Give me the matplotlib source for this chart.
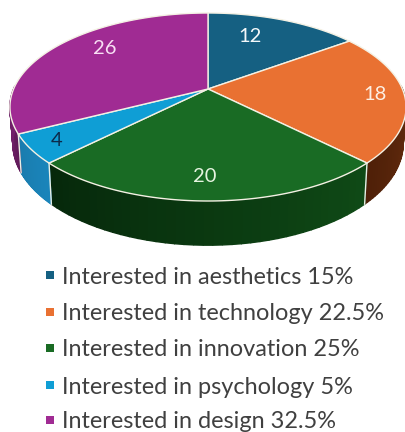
import numpy             as np
import matplotlib.pyplot as plt

from matplotlib.colors import to_rgb

# pie values and legend text
categories  = ["Interested in aesthetics", "Interested in technology", "Interested in innovation", "Interested in psychology", "Interested in design"]
counts      = [12, 18, 20, 4, 26]
percent_txt = ["15%", "22.5%", "25%", "5%", "32.5%"]

top_colors  = ["#156082", "#E97132", "#196B24", "#0F9ED5", "#A02B93"]
side_colors = [("#0c3a50", "#0c3a50"), ("#6b3010", "#4f2008"), ("#0f4a16", "#06280b"), ("#1a85bb", "#1a7cae"), ("#5f1a58", "#7a2272")]
label_color = ["#f4f8fa", "#fdeee2", "#e6f4e0", "#0c2a4a", "#f8dff4"]
label_pos   = [(250, 37), (375, 95), (205, 176), (57, 141), (105, 49)]

PERSPECTIVE = 0.1915


def project(angle, cy, half_w, half_h):
    # clockwise angle from 12 o'clock, far side of the disc is squeezed
    u = np.sin(angle)
    v = np.cos(angle)
    w = 1 + PERSPECTIVE * v
    return 208 + half_w * u / w, cy - half_h * v / w


def top_edge(angle):
    return project(angle, 89, 194.4, 90.55)


def bottom_edge(angle):
    return project(angle, 124, 191.5, 98)


def draw_side(start, end, colors):
    # side wall of one slice, small strips so the shade can run along the arc
    start = max(start, np.radians(88))
    end   = min(end, np.radians(272))
    if end <= start:
        return
    c0, c1 = np.array(to_rgb(colors[0])), np.array(to_rgb(colors[1]))
    steps  = np.linspace(start, end, 40)
    for i in range(len(steps) - 1):
        x1, y1 = top_edge(steps[i:i + 2])
        x2, y2 = bottom_edge(steps[i:i + 2])
        col    = c0 + (c1 - c0) * i / 38
        ax.fill(np.r_[x1, x2[::-1]], np.r_[y1, y2[::-1]], facecolor = col, edgecolor = col, lw = 1.0, zorder = 2)


fig = plt.figure(figsize = [4.05, 4.32], dpi = 100)
ax  = fig.add_axes([0, 0, 1, 1])
ax.set_xlim(0, 405)
ax.set_ylim(432, 0)
ax.axis("off")

fractions = np.cumsum([0] + counts) / sum(counts)
bounds    = fractions * 2 * np.pi

for i in range(len(counts)):
    draw_side(bounds[i], bounds[i + 1], side_colors[i])

# white seams between the side walls
for b in bounds[1:-1]:
    if np.radians(90) < b < np.radians(270):
        x1, y1 = top_edge(b)
        x2, y2 = bottom_edge(b)
        ax.plot([x1, x2], [y1, y2], color = "#e8efe6", lw = 1.0, zorder = 3)

for i in range(len(counts)):
    arc  = np.linspace(bounds[i], bounds[i + 1], 120)
    x, y = top_edge(arc)
    ax.fill(np.r_[208, x], np.r_[89, y], facecolor = top_colors[i], edgecolor = "#f4f1e4", lw = 1.0, joinstyle = "round", zorder = 4)

for i, (lx, ly) in enumerate(label_pos):
    ax.text(lx, ly, str(counts[i]), color = label_color[i], fontsize = 14.5, family = "Lato", ha = "center", va = "center", zorder = 5)

# legend
legend_y = [275, 312, 348, 385, 420]
for i, name in enumerate(categories):
    ax.scatter([49.5], [legend_y[i]], marker = "s", s = 34, color = top_colors[i], lw = 0, zorder = 5)
    ax.text(62, legend_y[i], f"{name} {percent_txt[i]}", color = "#404040", fontsize = 16.9, family = "Lato", ha = "left", va = "center_baseline", zorder = 5)

fig.savefig("out.png", dpi = 100, facecolor = "white")
